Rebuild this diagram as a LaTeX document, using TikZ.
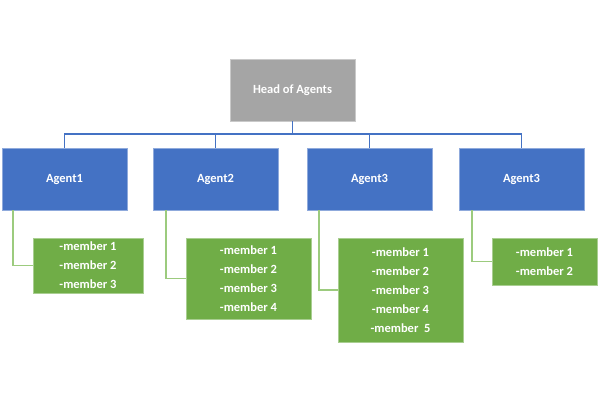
\documentclass[tikz,border=0pt]{standalone}
\usepackage{fontspec}
\setmainfont{Carlito}
\definecolor{ablue}{HTML}{4472C4}
\definecolor{agreen}{HTML}{70AD47}
\definecolor{agray}{HTML}{A5A5A5}
\definecolor{lgreen}{HTML}{9CCB7E}
\begin{document}
\begin{tikzpicture}[x=1pt,y=-1pt,
  boxbase/.style={rectangle, inner sep=0pt, text=white, align=center,
    font=\bfseries\fontsize{12.5}{19}\selectfont, line width=0.8pt},
  headbox/.style={boxbase, fill=agray, draw=agray!60!white, minimum width=125pt, minimum height=62pt},
  agentbox/.style={boxbase, fill=ablue, draw=ablue!60!white, minimum width=125pt, minimum height=62pt},
  membox/.style={boxbase, fill=agreen, draw=agreen!60!white},
  bcon/.style={draw=ablue, line width=1.3pt},
  gcon/.style={draw=lgreen, line width=1.8pt}]
\useasboundingbox (0,0) rectangle (599,402);
\node[headbox] (head) at (292.5,90) {Head of Agents};
\node[agentbox] (a1) at (64.5,179) {Agent1};
\node[agentbox] (a2) at (215.5,179) {Agent2};
\node[agentbox] (a3) at (369.5,179) {Agent3};
\node[agentbox] (a4) at (521.5,179) {Agent3};
\node[membox, minimum width=110pt, minimum height=55pt] (g1) at (88,265.5) {-member 1\\-member 2\\-member 3};
\node[membox, minimum width=125pt, minimum height=81pt] (g2) at (248.5,278.5) {-member 1\\-member 2\\-member 3\\-member 4};
\node[membox, minimum width=125pt, minimum height=104pt] (g3) at (400.5,290) {-member 1\\-member 2\\-member 3\\-member 4\\-member\ \ 5};
\node[membox, minimum width=105pt, minimum height=47pt] (g4) at (544.5,261.5) {-member 1\\-member 2};
\coordinate (bus) at (292.5,134);
\draw[bcon] (head.south) -- (bus);
\draw[bcon] (a1.north) |- (bus) -| (a4.north);
\draw[bcon] (a2.north) -- (a2.north |- bus);
\draw[bcon] (a3.north) -- (a3.north |- bus);
\draw[gcon] ([xshift=11pt]a1.south west) |- (g1.west);
\draw[gcon] ([xshift=13pt]a2.south west) |- (g2.west);
\draw[gcon] ([xshift=12pt]a3.south west) |- (g3.west);
\draw[gcon] ([xshift=13pt]a4.south west) |- (g4.west);
\end{tikzpicture}
\end{document}
